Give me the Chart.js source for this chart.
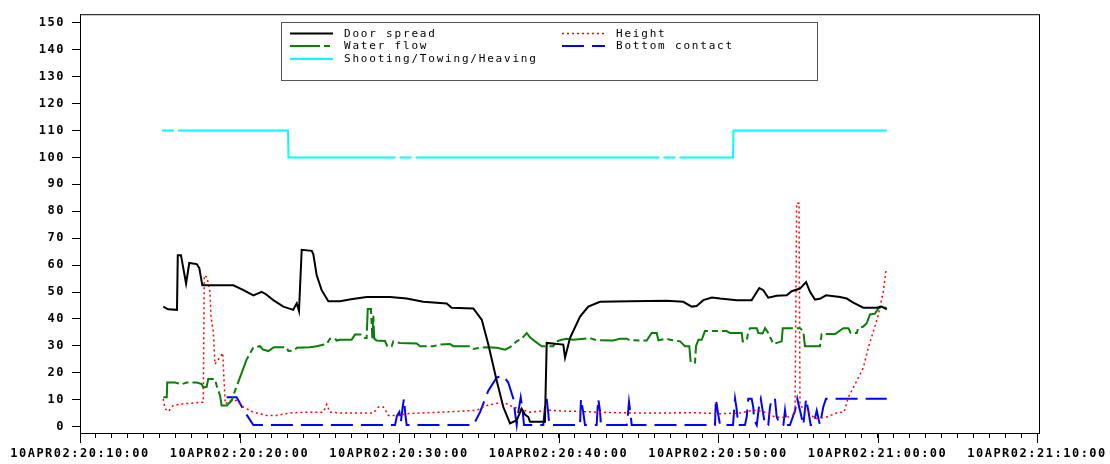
<!DOCTYPE html>
<html>
<head>
<meta charset="utf-8">
<script src="https://cdn.jsdelivr.net/npm/chart.js@4.4.1/dist/chart.umd.min.js"></script>
<style>
  html, body { margin: 0; padding: 0; background: #fff; }
  #wrap { width: 1110px; height: 464px; }
</style>
</head>
<body>
<div id="wrap"><canvas id="chart" width="1110" height="464"></canvas></div>
<script>
// time axis: minutes after 10APR02:20:10:00
const doorTime = [5.22,5.52,6.08,6.13,6.33,6.65,6.85,7.32,7.48,7.67,9.61,10.22,10.87,11.39,11.66,12.12,12.75,13.37,13.59,13.73,
  13.90,14.53,14.63,14.84,15.15,15.57,16.30,16.99,17.97,19.44,20.48,21.52,22.99,23.30,24.66,25.19,25.60,26.13,26.54,26.96,
  27.38,27.69,27.90,28.11,28.21,29.15,29.26,30.30,30.41,30.72,31.35,31.87,32.60,34.48,36.78,37.82,38.35,38.66,39.08,39.61,
  40.13,41.17,42.11,42.59,42.84,43.15,43.68,44.31,44.62,45.14,45.52,45.77,46.08,46.39,46.77,47.65,48.07,48.48,49.11,49.95,
  50.26,50.58];
const doorSpread = [44.6,43.6,43.4,63.7,63.7,53.1,60.8,60.4,58.9,52.5,52.5,50.8,48.8,50.1,49.2,47.0,44.6,43.4,45.8,43.0,
  65.7,65.3,64.0,56.2,50.7,46.6,46.6,47.3,48.2,48.2,47.6,46.4,45.8,44.2,43.9,39.7,30.5,17.0,7.3,1.2,
  2.4,6.7,4.5,3.6,1.8,1.8,31.1,30.5,25.6,32.9,40.9,44.6,46.4,46.6,46.8,46.4,44.6,44.8,47.0,48.0,
  47.6,47.0,47.0,51.5,50.7,47.9,48.6,48.8,50.3,51.3,53.7,50.1,47.2,47.5,48.8,48.2,47.6,46.1,44.2,44.2,
  44.6,43.6];

const flowTime = [5.22,5.44,5.47,5.96,6.38,6.69,7.32,7.63,7.73,7.94,8.04,8.46,8.57,8.78,8.88,9.20,9.51,9.72,10.45,10.87,
  11.29,11.45,11.81,12.16,12.96,13.06,13.42,13.59,14.42,14.84,15.47,15.67,15.99,16.09,16.30,17.03,17.24,17.66,17.87,17.97,
  18.04,18.24,18.33,18.39,18.45,18.60,19.12,19.27,19.54,19.64,20.06,21.11,21.32,22.15,22.57,23.20,23.40,24.45,24.66,25.08,
  25.50,26.13,26.65,26.96,27.38,27.69,28.01,28.21,28.53,28.95,29.67,29.89,30.20,30.51,30.93,31.97,32.39,33.44,33.86,34.28,
  34.48,35.53,35.84,36.16,36.26,36.78,36.99,37.62,37.93,38.20,38.29,38.56,38.62,38.77,38.98,39.18,40.13,40.55,40.75,41.49,
  41.55,41.80,41.90,42.01,42.43,42.53,42.80,42.95,43.15,43.47,43.99,44.06,45.14,45.35,45.45,46.39,46.50,47.34,47.86,48.17,
  48.32,48.70,48.79,49.11,49.32,49.53,49.84,50.05,50.36,50.58];
const waterFlow = [10.9,10.9,16.4,16.4,15.8,16.4,16.4,15.8,14.6,14.8,17.7,17.7,15.2,11.6,7.9,7.9,9.7,13.4,25.0,29.5,
  29.9,28.7,28.1,29.5,29.5,28.1,28.3,29.3,29.5,29.9,30.7,32.7,32.7,32.0,32.3,32.3,34.2,34.2,32.9,32.9,
  43.7,43.7,32.9,41.5,32.7,32.0,31.8,29.9,29.9,31.7,31.1,30.9,29.9,29.9,30.5,30.7,29.9,29.9,28.9,29.3,
  29.5,29.3,28.6,29.5,31.7,32.7,34.8,33.2,31.7,29.9,29.9,31.7,32.3,32.7,32.3,32.9,32.1,32.0,32.7,32.7,
  32.1,32.0,34.8,34.8,32.1,32.7,32.3,31.7,29.9,29.9,23.8,23.8,29.9,32.3,32.3,35.5,35.5,35.5,34.8,34.8,
  31.7,31.9,35.4,36.6,36.6,34.8,34.6,36.6,34.8,30.7,31.7,36.6,36.6,35.4,29.9,29.9,34.4,34.4,36.6,36.6,
  34.8,34.8,36.6,37.2,38.4,41.7,42.0,43.9,44.6,43.9];

const heightTime = [5.22,5.33,5.54,5.85,6.48,7.10,7.73,7.79,7.96,8.15,8.21,8.36,8.46,8.67,8.82,8.95,9.03,9.11,9.40,9.82,
  10.24,10.87,11.71,12.33,13.17,14.21,15.25,15.47,15.67,16.30,18.39,18.71,19.02,19.34,19.96,20.48,21.74,23.40,24.87,25.50,
  26.54,27.17,28.21,29.47,30.30,31.14,32.39,34.48,36.57,38.66,40.13,41.38,42.21,42.84,43.57,44.31,44.83,44.93,45.08,45.14,
  45.35,45.56,46.08,46.82,47.44,47.90,48.17,48.70,49.11,49.42,49.74,50.05,50.36,50.53];
const height = [10.3,6.7,5.7,7.9,8.5,8.8,9.1,56.2,55.5,50.1,41.0,35.4,23.2,25.0,26.0,27.4,17.0,8.5,9.7,9.7,
  7.3,5.4,4.2,4.2,5.1,5.4,5.4,8.3,5.4,5.1,5.1,7.3,7.3,4.2,4.2,4.8,5.2,5.6,6.1,7.9,
  9.1,7.3,5.4,6.1,5.8,5.7,5.4,5.1,5.1,5.2,4.8,5.1,6.1,5.6,3.6,3.4,4.6,83.0,83.0,8.5,
  6.5,6.0,3.0,3.6,5.1,5.4,10.9,17.0,21.9,29.3,35.4,41.5,50.1,58.0];

const bottomTime = [9.19,9.82,10.34,10.87,19.75,19.87,20.02,20.11,20.23,20.31,20.40,20.48,24.66,25.08,25.60,26.13,26.54,26.85,27.17,27.27,
  27.38,27.48,27.63,27.73,27.84,29.05,29.15,29.26,29.36,29.42,31.35,31.41,31.56,31.66,32.39,32.49,32.60,32.66,34.28,34.36,
  34.42,34.51,34.59,39.81,39.87,40.00,40.13,40.94,41.07,41.17,41.27,41.69,41.80,41.90,42.11,42.21,42.27,42.43,42.59,42.68,
  42.80,42.95,43.15,43.26,43.37,43.57,43.68,43.89,44.10,44.20,44.31,44.51,44.83,44.97,45.14,45.35,45.52,45.66,45.81,45.98,
  46.19,46.39,46.60,46.77,50.58];
const bottomContact = [10.9,10.9,5.4,0.6,0.6,4.0,5.4,1.5,7.3,10.4,4.5,0.6,0.6,5.4,13.4,18.3,18.9,16.4,10.4,5.4,
  0.6,5.4,10.9,7.0,0.6,0.6,7.3,10.4,5.0,0.6,0.6,10.4,5.0,0.6,0.6,10.4,6.0,0.6,0.6,5.0,
  9.2,5.0,0.6,0.6,10.4,5.0,0.6,0.6,10.4,6.5,0.6,0.6,3.7,10.4,10.4,7.3,2.4,0.6,8.5,10.4,
  6.0,0.6,0.6,7.3,10.4,10.4,3.7,0.6,0.6,6.0,0.6,0.6,6.0,10.4,6.0,0.6,10.4,6.0,0.6,0.6,
  6.0,0.6,7.3,10.4,10.4];

const stageTime = [5.14,13.04,13.07,40.94,40.97,50.58];
const stage = [110,110,100,100,110,110];

const yTicks = [0,10,20,30,40,50,60,70,80,90,100,110,120,130,140,150];

function pts(t, v) { return t.map((x, i) => ({ x: x, y: v[i] })); }

function timeLabel(m) {
  const total = 20 * 60 + 10 + m;
  const hh = String(Math.floor(total / 60)).padStart(2, '0');
  const mm = String(total % 60).padStart(2, '0');
  return '10APR02:' + hh + ':' + mm + ':00';
}

const FONT = "'DejaVu Sans Mono', monospace";

const legendItems = [
  { i: 0, x: 290, y: 33.5 },
  { i: 1, x: 290, y: 46 },
  { i: 2, x: 290, y: 59 },
  { i: 3, x: 562, y: 33.5 },
  { i: 4, x: 562, y: 46 }
];

const framePlugin = {
  id: 'frame',
  beforeDraw(chart) {
    chart.ctx.letterSpacing = '1.5px';
  },
  afterDraw(chart) {
    const ctx = chart.ctx;
    const a = chart.chartArea;
    const x = chart.scales.x;
    ctx.save();
    ctx.strokeStyle = '#000';
    ctx.lineWidth = 1;
    ctx.strokeRect(a.left + 0.5, a.top + 0.5, a.right - a.left, a.bottom - a.top);
    // longer marks every 10 minutes
    for (let m = 0; m <= 60; m += 10) {
      const px = Math.round(x.getPixelForValue(m)) + 0.5;
      ctx.beginPath();
      ctx.moveTo(px, a.bottom);
      ctx.lineTo(px, a.bottom + 10);
      ctx.stroke();
    }
    // legend box
    ctx.strokeStyle = '#555';
    ctx.strokeRect(281.5, 22.5, 536, 58);
    ctx.font = '11px ' + FONT;
    ctx.letterSpacing = '1.8px';
    ctx.textBaseline = 'middle';
    ctx.fillStyle = '#000';
    legendItems.forEach(it => {
      const ds = chart.data.datasets[it.i];
      ctx.save();
      ctx.strokeStyle = ds.borderColor;
      ctx.lineWidth = ds.borderWidth;
      ctx.setLineDash(ds.borderDash || []);
      ctx.beginPath();
      ctx.moveTo(it.x, it.y);
      ctx.lineTo(it.x + 43, it.y);
      ctx.stroke();
      ctx.restore();
      ctx.fillText(ds.label, it.x + 54, it.y + 0.5);
    });
    ctx.restore();
  }
};

new Chart(document.getElementById('chart'), {
  type: 'line',
  data: {
    datasets: [
      { label: 'Door spread', data: pts(doorTime, doorSpread), borderColor: '#000000', borderWidth: 2 },
      { label: 'Water flow', data: pts(flowTime, waterFlow), borderColor: '#0a7d0a', borderWidth: 2, borderDash: [30, 4, 6, 4] },
      { label: 'Shooting/Towing/Heaving', data: pts(stageTime, stage), borderColor: '#00ffff', borderWidth: 2,
        borderDash: [244, 4, 12, 4], borderDashOffset: 248 },
      { label: 'Height', data: pts(heightTime, height), borderColor: '#ff0000', borderWidth: 1.5, borderDash: [2, 3] },
      { label: 'Bottom contact', data: pts(bottomTime, bottomContact), borderColor: '#0000ff', borderWidth: 2, borderDash: [22, 8] }
    ]
  },
  options: {
    responsive: false,
    animation: false,
    layout: { padding: { top: 8, right: 71, bottom: 0, left: 0 } },
    elements: { point: { radius: 0 }, line: { tension: 0 } },
    plugins: { legend: { display: false }, tooltip: { enabled: false } },
    scales: {
      x: {
        type: 'linear',
        min: 0,
        max: 60.125,
        afterBuildTicks(scale) {
          const t = [];
          for (let m = 0; m <= 60; m++) t.push({ value: m });
          scale.ticks = t;
        },
        afterFit(scale) { scale.height = 31; },
        ticks: {
          autoSkip: false,
          maxRotation: 0,
          minRotation: 0,
          padding: 9,
          color: '#000',
          font: { family: FONT, size: 12, weight: 'bold' },
          callback: v => (v % 10 === 0 ? timeLabel(v) : '')
        },
        grid: { display: true, drawOnChartArea: false, drawTicks: true, tickLength: 5, color: '#000' },
        border: { display: true, color: '#000', width: 1 }
      },
      y: {
        type: 'linear',
        min: -2.34,
        max: 153.2,
        afterBuildTicks(scale) {
          scale.ticks = yTicks.map(v => ({ value: v }));
        },
        afterFit(scale) { scale.width = 80; },
        ticks: {
          padding: 7,
          color: '#000',
          font: { family: FONT, size: 12, weight: 'bold' }
        },
        grid: { display: true, drawOnChartArea: false, drawTicks: true, tickLength: 8, color: '#000' },
        border: { display: true, color: '#000', width: 1 }
      }
    }
  },
  plugins: [framePlugin]
});
</script>
</body>
</html>
